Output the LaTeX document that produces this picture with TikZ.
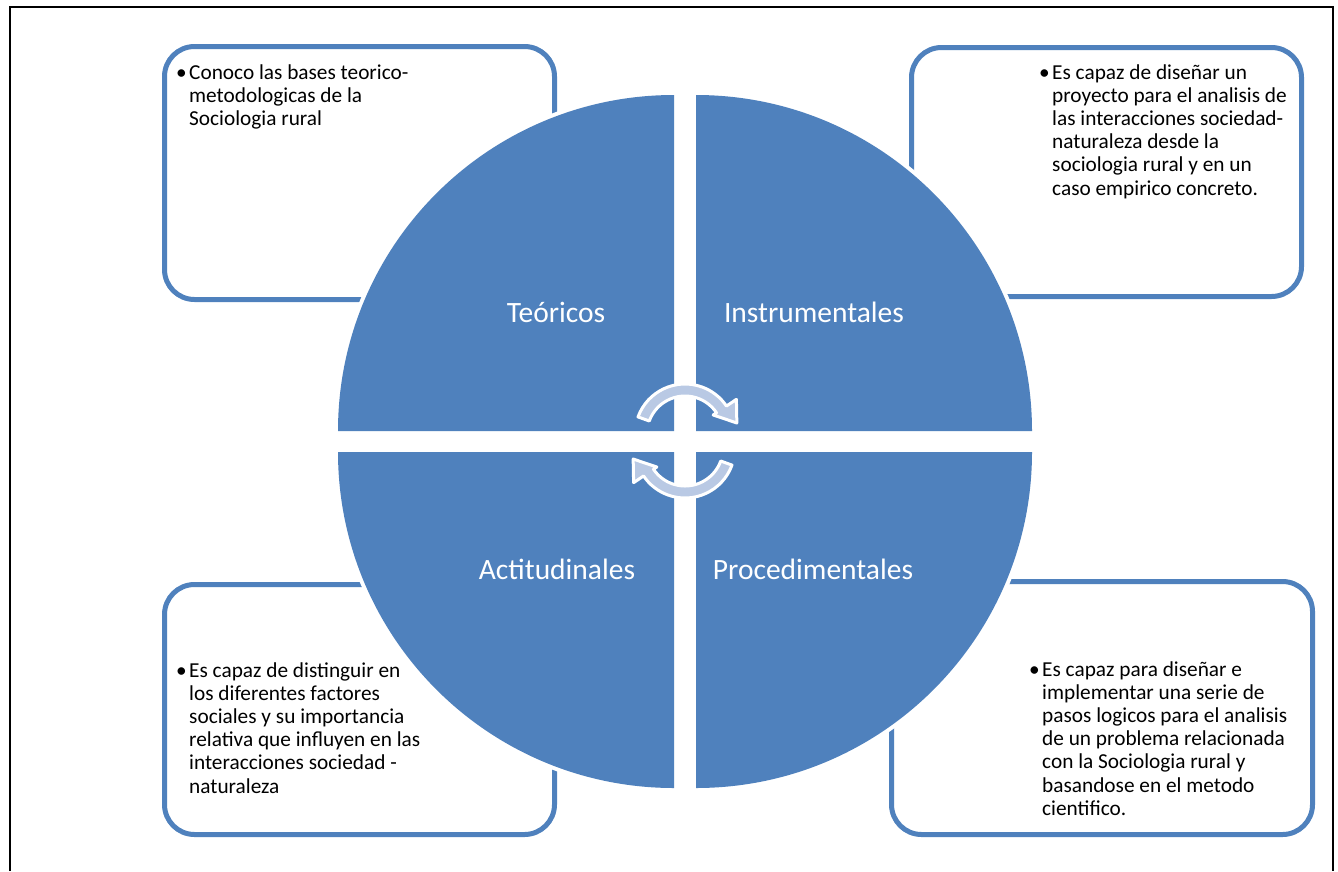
\documentclass[tikz,border=0pt]{standalone}
\usepackage{fontspec}
\setmainfont{Carlito}
\definecolor{azulcirculo}{HTML}{4F81BD}
\definecolor{azulflecha}{HTML}{B9C9E4}

% texto con viñeta
\newcommand{\vineta}[1]{\makebox[13pt][l]{\textbullet}\begin{tabular}[t]{@{}l@{}}#1\end{tabular}}
% flecha circular (centro local en (0,-7))
\newcommand{\flechaciclo}{\path[flecha] ([shift={(0,-7)}]-160:50) arc[start angle=-160, end angle=-34, radius=50]
    -- ([shift={(0,-7)}]-34:62) -- ([shift={(0,-7)}]-12:53) -- ([shift={(0,-7)}]-34:34)
    -- ([shift={(0,-7)}]-34:38) arc[start angle=-34, end angle=-160, radius=38] -- cycle;}

\begin{document}
\begin{tikzpicture}[x=1pt, y=-1pt,
        caja/.style={draw=azulcirculo, line width=5pt, fill=white, rounded corners=30pt, inner sep=0pt, outer sep=0pt},
        texto/.style={anchor=base west, inner sep=0pt, font=\fontsize{21.3pt}{23.2pt}\selectfont},
        cuadrante/.style={fill=azulcirculo, preaction={draw=white, line width=8pt}},
        etiqueta/.style={anchor=base, inner sep=0pt, text=white, font=\fontsize{29.5pt}{34pt}\selectfont},
        flecha/.style={fill=azulflecha, draw=white, line width=3pt, line join=round}]

    \useasboundingbox (0,0) rectangle (1338,871);
    \draw[line width=2.5pt] (10,871) -- (10,7) -- (1333,7) -- (1333,871);

    %cajas
    \node[caja, minimum width=390pt, minimum height=253pt] (teocaja) at (359.5,173) {};
    \node[caja, minimum width=390pt, minimum height=249pt] (inscaja) at (1106.5,172) {};
    \node[caja, minimum width=390pt, minimum height=250pt] (actcaja) at (359.5,709.5) {};
    \node[caja, minimum width=421pt, minimum height=253pt] (procaja) at (1102,708) {};

    \node[texto] (teotexto) at (176,79) {\vineta{Conoco las bases teorico-\\ metodologicas de la\\ Sociologia rural}};
    \node[texto] (instexto) at (1039,79) {\vineta{Es capaz de diseñar un\\ proyecto para el analisis de\\ las interacciones sociedad-\\ naturaleza desde la\\ sociologia rural y en un\\ caso empirico concreto.}};
    \node[texto] (acttexto) at (176,677) {\vineta{Es capaz de distinguir en\\ los diferentes factores\\ sociales y su importancia\\ relativa que influyen en las\\ interacciones sociedad -\\ naturaleza}};
    \node[texto] (protexto) at (1029,676) {\vineta{Es capaz para diseñar e\\ implementar una serie de\\ pasos logicos para el analisis\\ de un problema relacionada\\ con la Sociologia rural y\\ basandose en el metodo\\ cientifico.}};

    %circulo en cuatro partes
    \path[cuadrante] (674,431) -- ++(0,-336) arc[start angle=-90, end angle=-180, radius=336] -- cycle;
    \path[cuadrante] (696,431) -- ++(336,0) arc[start angle=0, end angle=-90, radius=336] -- cycle;
    \path[cuadrante] (674,452) -- ++(-336,0) arc[start angle=180, end angle=90, radius=336] -- cycle;
    \path[cuadrante] (696,452) -- ++(0,336) arc[start angle=90, end angle=0, radius=336] -- cycle;

    \begin{scope}[shift={(685,441)}]
        \flechaciclo
    \end{scope}
    \begin{scope}[shift={(685,441)}, rotate=180]
        \flechaciclo
    \end{scope}

    \node[etiqueta] (teo) at (556,322) {Teóricos};
    \node[etiqueta] (ins) at (814,322) {Instrumentales};
    \node[etiqueta] (act) at (557,579) {Actitudinales};
    \node[etiqueta] (pro) at (813,579) {Procedimentales};
\end{tikzpicture}
\end{document}
